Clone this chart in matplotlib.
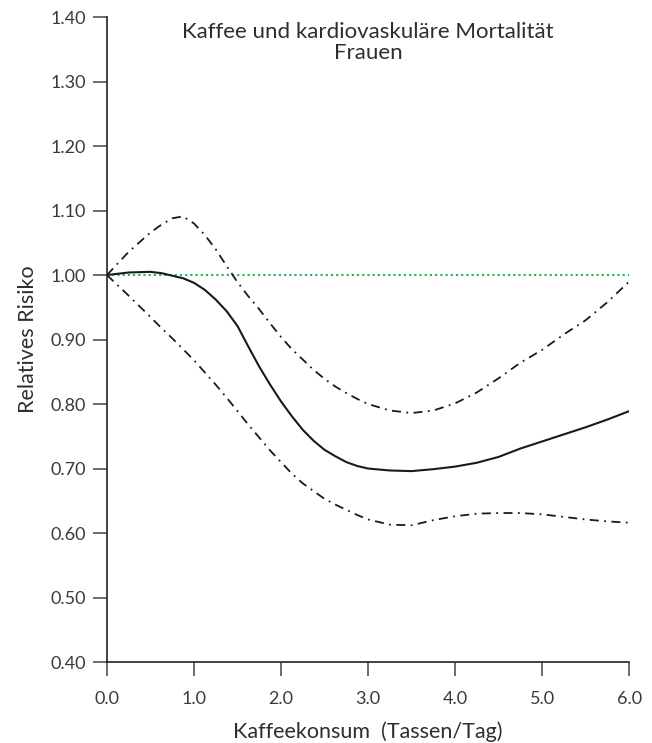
import matplotlib
matplotlib.use("Agg")
import matplotlib.pyplot as plt

plt.rcParams['font.family'] = ['Lato', 'DejaVu Sans']

# Kaffeekonsum (Tassen/Tag)
cups = [0.0, 0.25, 0.5, 0.625, 0.75, 0.875, 1.0, 1.125, 1.25, 1.375, 1.5,
        1.625, 1.75, 1.875, 2.0, 2.125, 2.25, 2.375, 2.5, 2.625, 2.75, 2.875,
        3.0, 3.25, 3.5, 3.75, 4.0, 4.25, 4.5, 4.75, 5.0, 5.25, 5.5, 5.75, 6.0]

# Relatives Risiko mit 95%-Konfidenzgrenzen
rr = [1.000, 1.004, 1.005, 1.003, 0.999, 0.995, 0.988, 0.977, 0.962, 0.944,
      0.921, 0.889, 0.858, 0.830, 0.804, 0.781, 0.760, 0.743, 0.729, 0.719,
      0.710, 0.704, 0.700, 0.697, 0.696, 0.699, 0.703, 0.709, 0.718, 0.731,
      0.742, 0.753, 0.764, 0.776, 0.789]
rr_upper = [1.000, 1.036, 1.066, 1.078, 1.088, 1.091, 1.080, 1.062, 1.040,
            1.014, 0.989, 0.967, 0.947, 0.925, 0.904, 0.885, 0.869, 0.853,
            0.839, 0.827, 0.817, 0.808, 0.800, 0.790, 0.786, 0.790, 0.801,
            0.818, 0.840, 0.864, 0.884, 0.908, 0.930, 0.958, 0.990]
rr_lower = [1.000, 0.968, 0.935, 0.918, 0.902, 0.885, 0.868, 0.849, 0.830,
            0.810, 0.789, 0.768, 0.748, 0.728, 0.710, 0.692, 0.677, 0.665,
            0.653, 0.644, 0.636, 0.628, 0.621, 0.613, 0.612, 0.620, 0.626,
            0.630, 0.631, 0.631, 0.629, 0.625, 0.621, 0.618, 0.616]
reference = 1.0

xticks = [0, 1, 2, 3, 4, 5, 6]
yticks = [0.4, 0.5, 0.6, 0.7, 0.8, 0.9, 1.0, 1.1, 1.2, 1.3, 1.4]

fig = plt.figure(figsize=(6.52, 7.43), dpi=100)
ax = fig.add_axes([0.164, 0.109, 0.801, 0.868])

ax.plot([cups[0], cups[-1]], [reference, reference], color='#1fb25a',
        linestyle=(0, (1, 1.5)), linewidth=1.5, zorder=1)
ax.plot(cups, rr_upper, color='#1a1a1a', linestyle=(0, (5, 3, 1, 3)), linewidth=1.3)
ax.plot(cups, rr_lower, color='#1a1a1a', linestyle=(0, (5, 3, 1, 3)), linewidth=1.3)
ax.plot(cups, rr, color='#1a1a1a', linewidth=1.5)

ax.set_xlim(0, 6)
ax.set_ylim(0.4, 1.4)
ax.set_xticks(xticks)
ax.set_xticklabels([f"{v:.1f}" for v in xticks])
ax.set_yticks(yticks)
ax.set_yticklabels([f"{v:.2f}" for v in yticks])

for side in ('top', 'right'):
    ax.spines[side].set_visible(False)
for side in ('left', 'bottom'):
    ax.spines[side].set_color('#222222')
    ax.spines[side].set_linewidth(1.2)

ax.tick_params(axis='both', direction='out', length=10, width=1.1,
               color='#444444', labelcolor='#3a3a3a', labelsize=13)
ax.tick_params(axis='x', pad=11)
ax.tick_params(axis='y', pad=5)

ax.text(3.0, 1.393, "Kaffee und kardiovaskuläre Mortalität\nFrauen",
        ha='center', va='top', fontsize=16, color='#2e2e2e', linespacing=1.08)

ax.set_xlabel("Kaffeekonsum  (Tassen/Tag)", fontsize=15.5, color='#2e2e2e', labelpad=10)
ax.set_ylabel("Relatives Risiko", fontsize=15.5, color='#2e2e2e', labelpad=9)

fig.savefig("out.png", dpi=100, facecolor='white')
